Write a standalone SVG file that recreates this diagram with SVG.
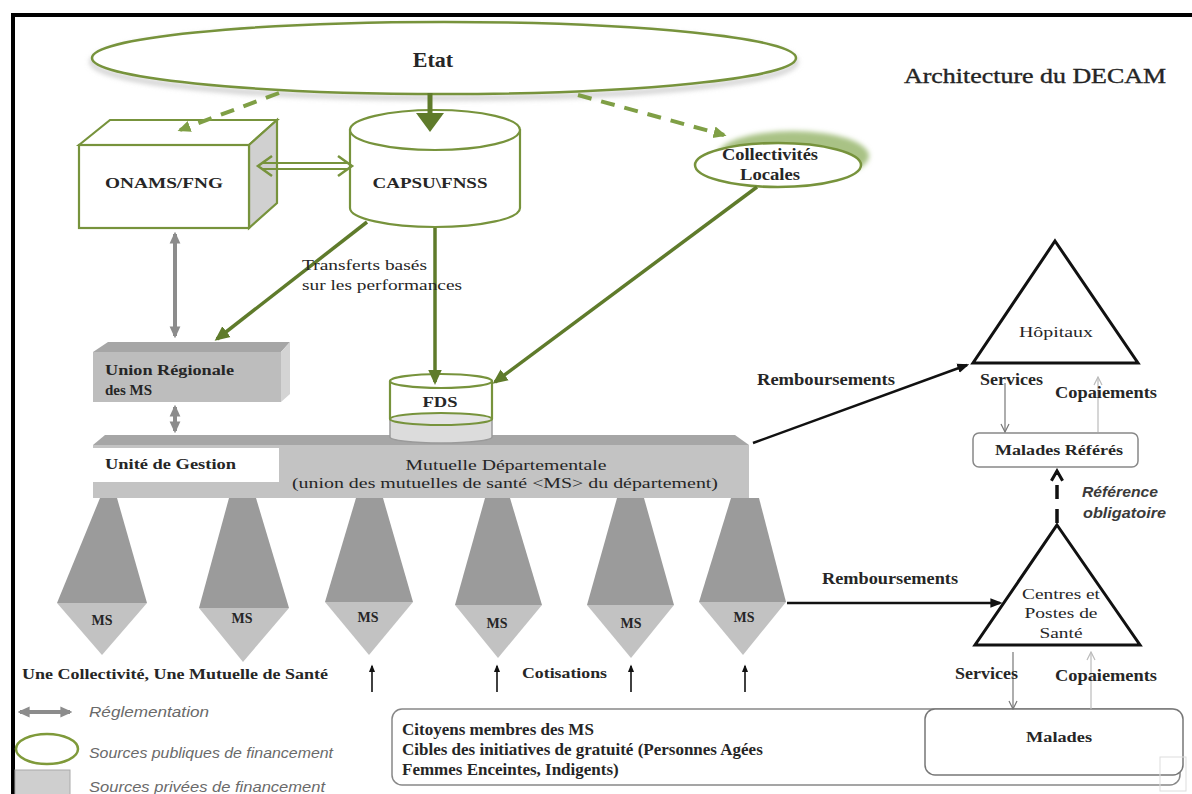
<svg xmlns="http://www.w3.org/2000/svg" width="1192" height="794" viewBox="0 0 1192 794">
<defs>
<style>
.s{font-family:"Liberation Serif","Times New Roman",serif;fill:#262626}
.b{font-weight:bold}
.m{text-anchor:middle}
.lg{font-family:"Liberation Sans",Arial,sans-serif;font-style:italic;fill:#6a6a6a;font-size:15px}
.ref{font-family:"Liberation Sans",Arial,sans-serif;font-style:italic;font-weight:bold;fill:#3a3a3a;font-size:15px}
.gs{stroke:#77933c;stroke-width:2.2}
.ga{stroke:#5f7b2b;stroke-width:3.5;fill:none}
.gd{stroke:#7f9f45;stroke-width:4;stroke-dasharray:14 10;fill:none}
.ba{stroke:#111;stroke-width:2.5;fill:none}
.gy{stroke:#8c8c8c;stroke-width:4;fill:none}
.th{stroke:#777;stroke-width:1.2;fill:none}
.tl{stroke:#bbb;stroke-width:1.2;fill:none}
.dk{fill:#9b9b9b}
.lt{fill:#c2c2c2}
.ct{font-family:"Liberation Serif","Times New Roman",serif;fill:#262626;font-weight:bold;font-size:17px}
</style>
<filter id="bl" x="-20%" y="-50%" width="140%" height="200%"><feGaussianBlur stdDeviation="2.5"/></filter>
<marker id="ag" viewBox="0 0 10 10" refX="8" refY="5" markerWidth="15" markerHeight="15" markerUnits="userSpaceOnUse" orient="auto"><path d="M0,0.5 L10,5 L0,9.5 z" fill="#5f7b2b"/></marker>
<marker id="agd" viewBox="0 0 10 10" refX="8" refY="5" markerWidth="13" markerHeight="13" markerUnits="userSpaceOnUse" orient="auto"><path d="M0,0.5 L10,5 L0,9.5 z" fill="#7f9f45"/></marker>
<marker id="agy" viewBox="0 0 10 10" refX="8" refY="5" markerWidth="12" markerHeight="12" markerUnits="userSpaceOnUse" orient="auto-start-reverse"><path d="M0,0.5 L10,5 L0,9.5 z" fill="#8c8c8c"/></marker>
<marker id="ab" viewBox="0 0 10 10" refX="8" refY="5" markerWidth="12" markerHeight="12" markerUnits="userSpaceOnUse" orient="auto"><path d="M0,1 L10,5 L0,9 z" fill="#111"/></marker>
<marker id="ak" viewBox="0 0 10 10" refX="8" refY="5" markerWidth="8" markerHeight="8" markerUnits="userSpaceOnUse" orient="auto"><path d="M0,1 L10,5 L0,9 z" fill="#111"/></marker>
<marker id="ao" viewBox="0 0 10 10" refX="9" refY="5" markerWidth="10" markerHeight="10" markerUnits="userSpaceOnUse" orient="auto"><path d="M1,1 L9,5 L1,9" fill="none" stroke="#777" stroke-width="1.2"/></marker>
<marker id="aol" viewBox="0 0 10 10" refX="9" refY="5" markerWidth="10" markerHeight="10" markerUnits="userSpaceOnUse" orient="auto"><path d="M1,1 L9,5 L1,9" fill="none" stroke="#bbb" stroke-width="1.2"/></marker>
<marker id="ar" viewBox="0 0 10 10" refX="8" refY="5" markerWidth="14" markerHeight="14" markerUnits="userSpaceOnUse" orient="auto"><path d="M1,1 L8,5 L1,9" fill="none" stroke="#111" stroke-width="2.2"/></marker>
</defs>
<rect width="1192" height="794" fill="#fff"/>
<path d="M13,794 V15 H1192" fill="none" stroke="#000" stroke-width="4"/>

<g id="etat">
<ellipse cx="444" cy="62" rx="352" ry="36" fill="none" stroke="#cfcfcf" stroke-width="5" filter="url(#bl)"/>
<ellipse cx="444" cy="58" rx="352" ry="36" fill="#fff" stroke="#77933c" stroke-width="2.5"/>
<text x="433" y="67" class="s b m" font-size="22">Etat</text>
</g>
<g id="title"><text x="904" y="83" class="s" font-size="20" fill="#1e1e1e" stroke="#1e1e1e" stroke-width="0.35" textLength="262" lengthAdjust="spacingAndGlyphs">Architecture du DECAM</text></g>

<g id="onams">
<polygon points="79,145 110,120 277,120 249,145" fill="#fff" class="gs"/>
<polygon points="249,145 277,120 277,203 249,228" fill="#d0d0d0" class="gs"/>
<rect x="79" y="145" width="170" height="83" fill="#fff" class="gs"/>
<text x="164" y="188" class="s b m" font-size="15" textLength="118" lengthAdjust="spacingAndGlyphs">ONAMS/FNG</text>
</g>

<g id="capsu">
<path d="M350,130 V208 A85,19 0 0 0 520,208 V130 z" fill="#fff" class="gs"/>
<ellipse cx="435" cy="130" rx="85" ry="20" fill="#fff" class="gs"/>
<text x="430" y="188" class="s b m" font-size="15" textLength="115" lengthAdjust="spacingAndGlyphs">CAPSU\FNSS</text>
</g>

<g id="collectivites">
<ellipse cx="793" cy="156" rx="76" ry="25" fill="#a9c285" filter="url(#bl)"/>
<ellipse cx="778" cy="165" rx="83" ry="22" fill="#fff" stroke="#77933c" stroke-width="2.5"/>
<text x="770" y="160" class="s b m" font-size="16" textLength="96" lengthAdjust="spacingAndGlyphs">Collectivités</text>
<text x="770" y="180" class="s b m" font-size="16" textLength="60" lengthAdjust="spacingAndGlyphs">Locales</text>
</g>

<g id="union-regionale">
<polygon points="93,352 108,342 290,342 281,352" fill="#a6a6a6"/>
<rect x="93" y="352" width="188" height="50" fill="#bdbdbd"/>
<polygon points="281,352 290,342 290,394 281,402" fill="#d4d4d4"/>
<text x="105" y="375" class="s b" font-size="15" textLength="129" lengthAdjust="spacingAndGlyphs">Union Régionale</text>
<text x="105" y="395" class="s b" font-size="15">des MS</text>
</g>

<g id="mutuelle">
<polygon points="93,445 105,435 735,435 749,445" fill="#a6a6a6"/>
<rect x="93" y="445" width="656" height="53" fill="#c3c3c3"/>
<rect x="93" y="448" width="186" height="34" fill="#fff"/>
<text x="105" y="469" class="s b" font-size="15" textLength="131" lengthAdjust="spacingAndGlyphs">Unité de Gestion</text>
<text x="506" y="470" class="s m" font-size="15" textLength="201" lengthAdjust="spacingAndGlyphs">Mutuelle Départementale</text>
<text x="505" y="488" class="s m" font-size="15" textLength="426" lengthAdjust="spacingAndGlyphs">(union des mutuelles de santé &lt;MS&gt; du département)</text>
</g>

<g id="fds">
<path d="M390,419 V437 A51,6 0 0 0 492,437 V419 z" fill="#dcdcdc" stroke="#9a9a9a" stroke-width="1.5"/>
<path d="M390,381 V419 A51,6 0 0 0 492,419 V381 z" fill="#fff"/>
<path d="M390,381 V419 M492,381 V419" class="gs"/>
<ellipse cx="441" cy="419" rx="51" ry="6" fill="#e4e4e4" class="gs"/>
<ellipse cx="441" cy="381" rx="51" ry="7" fill="#fff" class="gs"/>
<text x="440" y="407" class="s b m" font-size="15" textLength="35" lengthAdjust="spacingAndGlyphs">FDS</text>
</g>

<g id="ms1"><polygon class="dk" points="100,498 117,498 147,603 57,603"/><polygon class="lt" points="57,603 147,603 102,655"/><text x="102" y="625" class="s b m" font-size="14">MS</text></g>
<g id="ms2"><polygon class="dk" points="229,498 256,498 289,608 199,608"/><polygon class="lt" points="199,608 289,608 243,662"/><text x="242" y="623" class="s b m" font-size="14">MS</text></g>
<g id="ms3"><polygon class="dk" points="356,498 383,498 413,602 325,602"/><polygon class="lt" points="325,602 413,602 369,655"/><text x="368" y="622" class="s b m" font-size="14">MS</text></g>
<g id="ms4"><polygon class="dk" points="485,498 510,498 542,605 455,605"/><polygon class="lt" points="455,605 542,605 498,658"/><text x="497" y="628" class="s b m" font-size="14">MS</text></g>
<g id="ms5"><polygon class="dk" points="617,498 644,498 674,605 587,605"/><polygon class="lt" points="587,605 674,605 631,658"/><text x="631" y="628" class="s b m" font-size="14">MS</text></g>
<g id="ms6"><polygon class="dk" points="731,498 759,498 786,602 699,602"/><polygon class="lt" points="699,602 786,602 743,655"/><text x="744" y="622" class="s b m" font-size="14">MS</text></g>

<g id="hopitaux">
<polygon points="1055,241 1138,363 973,363" fill="#fff" stroke="#111" stroke-width="3" stroke-linejoin="miter"/>
<text x="1056" y="337" class="s m" font-size="15" fill="#444" textLength="74" lengthAdjust="spacingAndGlyphs">Hôpitaux</text>
</g>

<g id="malades-referes">
<rect x="973" y="433" width="165" height="34" rx="6" fill="#fff" stroke="#888" stroke-width="1.5"/>
<text x="1059" y="455" class="s b m" font-size="15" textLength="128" lengthAdjust="spacingAndGlyphs">Malades Référés</text>
</g>

<g id="centres">
<polygon points="1057,525 1140,645 975,645" fill="#fff" stroke="#111" stroke-width="3"/>
<text x="1061" y="599" class="s m" font-size="14" textLength="78" lengthAdjust="spacingAndGlyphs">Centres et</text>
<text x="1061" y="618" class="s m" font-size="14" textLength="73" lengthAdjust="spacingAndGlyphs">Postes de</text>
<text x="1061" y="638" class="s m" font-size="14" textLength="43" lengthAdjust="spacingAndGlyphs">Santé</text>
</g>

<g id="citoyens">
<rect x="392" y="709" width="788" height="76" rx="10" fill="none" stroke="#888" stroke-width="1.5"/>
<text x="402" y="735" class="ct">Citoyens membres des MS</text>
<text x="402" y="755" class="ct">Cibles des initiatives de gratuité (Personnes Agées</text>
<text x="402" y="775" class="ct">Femmes Enceintes, Indigents)</text>
</g>

<g id="malades">
<rect x="925" y="709" width="258" height="66" rx="10" fill="#fff" stroke="#777" stroke-width="1.5"/>
<text x="1059" y="742" class="s b m" font-size="15" textLength="66" lengthAdjust="spacingAndGlyphs">Malades</text>
</g>
<rect x="1160" y="757" width="26" height="34" fill="none" stroke="#ddd" stroke-width="1"/>

<g id="connectors">
<line x1="430" y1="93" x2="430" y2="116" stroke="#5f7b2b" stroke-width="5"/>
<polygon points="416,113 444,113 430,132" fill="#5f7b2b"/>
<line class="gd" x1="279" y1="93" x2="180" y2="130" marker-end="url(#agd)"/>
<line class="gd" x1="578" y1="95" x2="724" y2="135" marker-end="url(#agd)"/>
<path d="M262,163 H348 M262,169 H348" stroke="#77933c" stroke-width="2"/>
<path d="M272,156 L258,166 L272,176 M338,156 L352,166 L338,176" fill="none" stroke="#77933c" stroke-width="2.5"/>
<line class="ga" x1="367" y1="222" x2="217" y2="339" marker-end="url(#ag)"/>
<line class="ga" x1="435" y1="228" x2="435" y2="382" marker-end="url(#ag)"/>
<line class="ga" x1="757" y1="187" x2="495" y2="382" marker-end="url(#ag)"/>
<line class="gy" x1="175" y1="234" x2="175" y2="336" marker-start="url(#agy)" marker-end="url(#agy)"/>
<line class="gy" x1="175" y1="407" x2="175" y2="431" marker-start="url(#agy)" marker-end="url(#agy)"/>
<line class="ba" x1="753" y1="443" x2="967" y2="365" marker-end="url(#ab)"/>
<line class="ba" x1="787" y1="603" x2="1000" y2="603" marker-end="url(#ab)"/>
<line class="th" x1="1005" y1="383" x2="1005" y2="432" marker-end="url(#ao)"/>
<line class="tl" x1="1098" y1="432" x2="1098" y2="377" marker-end="url(#aol)"/>
<line class="th" x1="1013" y1="652" x2="1013" y2="709" marker-end="url(#ao)"/>
<line class="tl" x1="1091" y1="709" x2="1091" y2="652" marker-end="url(#aol)"/>
<line x1="1057" y1="523" x2="1057" y2="471" stroke="#111" stroke-width="3.5" stroke-dasharray="14 10" marker-end="url(#ar)"/>
<line stroke="#111" stroke-width="1.6" x1="372" y1="692" x2="372" y2="666" marker-end="url(#ak)"/>
<line stroke="#111" stroke-width="1.6" x1="497" y1="692" x2="497" y2="666" marker-end="url(#ak)"/>
<line stroke="#111" stroke-width="1.6" x1="631" y1="692" x2="631" y2="666" marker-end="url(#ak)"/>
<line stroke="#111" stroke-width="1.6" x1="745" y1="692" x2="745" y2="666" marker-end="url(#ak)"/>
</g>

<g id="labels">
<text x="302" y="270" class="s" font-size="15" textLength="125" lengthAdjust="spacingAndGlyphs">Transferts basés</text>
<text x="302" y="290" class="s" font-size="15" textLength="160" lengthAdjust="spacingAndGlyphs">sur les performances</text>
<text x="757" y="385" class="s b" font-size="16" fill="#333" textLength="138" lengthAdjust="spacingAndGlyphs">Remboursements</text>
<text x="980" y="385" class="s b" font-size="16" fill="#333" textLength="63" lengthAdjust="spacingAndGlyphs">Services</text>
<text x="1055" y="398" class="s b" font-size="16" fill="#333" textLength="102" lengthAdjust="spacingAndGlyphs">Copaiements</text>
<text x="1082" y="497" class="ref" textLength="76" lengthAdjust="spacingAndGlyphs">Référence</text>
<text x="1083" y="518" class="ref" textLength="83" lengthAdjust="spacingAndGlyphs">obligatoire</text>
<text x="822" y="584" class="s b" font-size="16" fill="#333" textLength="136" lengthAdjust="spacingAndGlyphs">Remboursements</text>
<text x="955" y="679" class="s b" font-size="16" fill="#333" textLength="63" lengthAdjust="spacingAndGlyphs">Services</text>
<text x="1055" y="681" class="s b" font-size="16" fill="#333" textLength="102" lengthAdjust="spacingAndGlyphs">Copaiements</text>
<text x="22" y="679" class="s b" font-size="15" textLength="306" lengthAdjust="spacingAndGlyphs">Une Collectivité, Une Mutuelle de Santé</text>
<text x="522" y="678" class="s b" font-size="15" textLength="85" lengthAdjust="spacingAndGlyphs">Cotisations</text>
</g>

<g id="legend">
<line class="gy" x1="20" y1="712" x2="70" y2="712" stroke-width="3.5" marker-start="url(#agy)" marker-end="url(#agy)"/>
<text x="89" y="717" class="lg" textLength="120" lengthAdjust="spacingAndGlyphs">Réglementation</text>
<ellipse cx="47" cy="749" rx="31" ry="15" fill="none" stroke="#7f9a3a" stroke-width="2.5"/>
<text x="89" y="758" class="lg" textLength="244" lengthAdjust="spacingAndGlyphs">Sources publiques de financement</text>
<rect x="15" y="770" width="55" height="30" fill="#cfcfcf" stroke="#aaa" stroke-width="1"/>
<text x="89" y="792" class="lg" textLength="236" lengthAdjust="spacingAndGlyphs">Sources privées de financement</text>
</g>
</svg>
